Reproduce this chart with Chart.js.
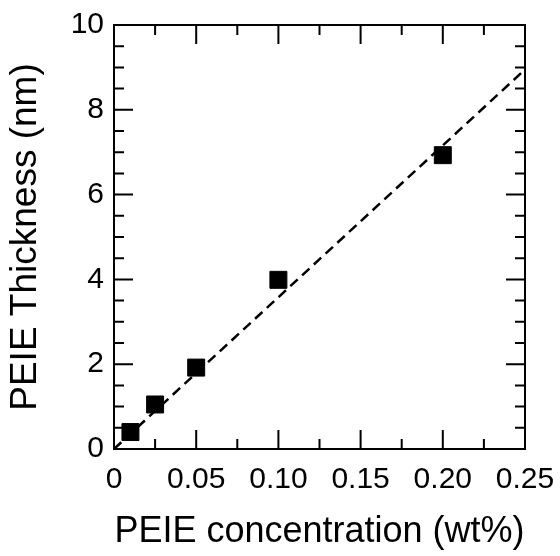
<!DOCTYPE html>
<html>
<head>
<meta charset="utf-8">
<title>PEIE thickness</title>
<script src="https://cdn.jsdelivr.net/npm/chart.js@4"></script>
<style>
  html, body { margin: 0; padding: 0; background: #fff; }
  #wrap { width: 560px; height: 556px; }
</style>
</head>
<body>
<div id="wrap"><canvas id="thicknessChart"></canvas></div>
<script>
// data
const concentration = [0.01, 0.025, 0.05, 0.1, 0.2];
const thickness = [0.4, 1.05, 1.92, 3.99, 6.93];
const fitX = [0, 0.25];
const fitY = [0, 8.95];

const FONT = "'Liberation Sans', Arial, sans-serif";

// frame + inward ticks on all four sides
const frameTicks = {
  id: "frameTicks",
  afterDatasetsDraw(chart) {
    const { ctx, chartArea: a, scales: { x, y } } = chart;
    const major = 19, minor = 10;
    ctx.save();
    ctx.strokeStyle = "#000";
    ctx.lineWidth = 2;
    ctx.lineCap = "butt";
    ctx.strokeRect(a.left, a.top, a.right - a.left, a.bottom - a.top);

    const xt = x.ticks.map(t => t.value);
    const yt = y.ticks.map(t => t.value);
    ctx.beginPath();
    xt.forEach((v, i) => {
      const px = x.getPixelForValue(v);
      ctx.moveTo(px, a.bottom); ctx.lineTo(px, a.bottom - major);
      ctx.moveTo(px, a.top); ctx.lineTo(px, a.top + major);
      if (i < xt.length - 1) {
        const mx = x.getPixelForValue((v + xt[i + 1]) / 2);
        ctx.moveTo(mx, a.bottom); ctx.lineTo(mx, a.bottom - minor);
        ctx.moveTo(mx, a.top); ctx.lineTo(mx, a.top + minor);
      }
    });
    yt.forEach((v, i) => {
      const py = y.getPixelForValue(v);
      ctx.moveTo(a.left, py); ctx.lineTo(a.left + major, py);
      ctx.moveTo(a.right, py); ctx.lineTo(a.right - major, py);
      if (i < yt.length - 1) {
        const step = (yt[i + 1] - v) / 4;
        for (let k = 1; k < 4; k++) {
          const my = y.getPixelForValue(v + k * step);
          ctx.moveTo(a.left, my); ctx.lineTo(a.left + minor, my);
          ctx.moveTo(a.right, my); ctx.lineTo(a.right - minor, my);
        }
      }
    });
    ctx.stroke();
    ctx.restore();
  }
};

new Chart(document.getElementById("thicknessChart"), {
  type: "scatter",
  data: {
    datasets: [
      {
        label: "PEIE",
        data: concentration.map((c, i) => ({ x: c, y: thickness[i] })),
        pointStyle: "rect",
        pointRadius: 12,
        pointHoverRadius: 12,
        backgroundColor: "#000",
        borderColor: "#000",
        borderWidth: 1,
        order: 0
      },
      {
        type: "line",
        label: "fit",
        data: fitX.map((c, i) => ({ x: c, y: fitY[i] })),
        borderColor: "#000",
        borderWidth: 2.5,
        borderDash: [10, 6],
        pointRadius: 0,
        fill: false,
        order: 1
      }
    ]
  },
  options: {
    responsive: true,
    maintainAspectRatio: false,
    animation: false,
    layout: { padding: { top: 25, right: 35, left: 0, bottom: 0 } },
    plugins: { legend: { display: false }, tooltip: { enabled: false } },
    scales: {
      x: {
        type: "linear",
        min: 0,
        max: 0.25,
        afterFit(s) { s.height = 107; s.paddingLeft = 0; s.paddingRight = 0; },
        grid: { display: false, drawTicks: false },
        border: { display: false },
        ticks: {
          stepSize: 0.05,
          padding: 13,
          color: "#000",
          font: { family: FONT, size: 30 },
          maxRotation: 0,
          callback: v => (v === 0 ? "0" : v.toFixed(2))
        },
        title: {
          display: true,
          text: "PEIE concentration (wt%)",
          color: "#000",
          font: { family: FONT, size: 36 },
          padding: { top: 0, bottom: 2 }
        }
      },
      y: {
        type: "linear",
        min: 0,
        max: 10,
        afterFit(s) { s.width = 114; s.paddingTop = 0; s.paddingBottom = 0; },
        grid: { display: false, drawTicks: false },
        border: { display: false },
        ticks: {
          stepSize: 2,
          padding: 10,
          color: "#000",
          font: { family: FONT, size: 30 }
        },
        title: {
          display: true,
          text: "PEIE Thickness (nm)",
          color: "#000",
          font: { family: FONT, size: 37 },
          padding: { top: 4, bottom: 0 }
        }
      }
    }
  },
  plugins: [frameTicks]
});
</script>
</body>
</html>
